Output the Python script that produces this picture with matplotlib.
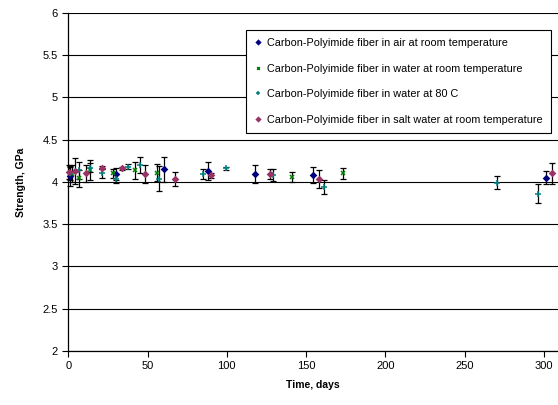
import matplotlib
matplotlib.use("Agg")
import matplotlib.pyplot as plt

# Carbon-Polyimide fiber in air at room temperature
air_days = [1.0, 30.3, 60.2, 88.1, 118.0, 154.2, 301.3]
air_vals = [4.07, 4.09, 4.15, 4.13, 4.095, 4.08, 4.05]
air_err = [0.12, 0.07, 0.15, 0.11, 0.105, 0.095, 0.08]

# Carbon-Polyimide fiber in water at room temperature
wrt_days = [2.1, 7.0, 13.9, 28.2, 41.9, 56.2, 141.0, 173.2]
wrt_vals = [4.095, 4.045, 4.14, 4.10, 4.14, 4.11, 4.06, 4.10]
wrt_err = [0.1, 0.1, 0.12, 0.05, 0.1, 0.1, 0.057, 0.067]

# Carbon-Polyimide fiber in water at 80 C
w80_days = [1.0, 7.0, 13.9, 21.0, 29.9, 37.6, 45.0, 57.2, 85.0, 99.3, 129.2, 161.4, 270.4, 296.5]
w80_vals = [4.10, 4.14, 4.17, 4.10, 4.04, 4.18, 4.20, 4.04, 4.095, 4.16, 4.08, 3.94, 3.99, 3.86]
w80_err = [0.08, 0.1, 0.05, 0.05, 0.05, 0.03, 0.1, 0.15, 0.055, 0.02, 0.07, 0.08, 0.075, 0.11]

# Carbon-Polyimide fiber in salt water at room temperature
salt_days = [0.2, 4.0, 11.0, 21.0, 34.1, 48.3, 67.1, 90.3, 127.3, 158.2, 305.3]
salt_vals = [4.12, 4.13, 4.105, 4.17, 4.16, 4.095, 4.035, 4.08, 4.095, 4.03, 4.10]
salt_err = [0.08, 0.15, 0.1, 0.02, 0.02, 0.105, 0.08, 0.03, 0.06, 0.107, 0.125]

labels = [
    "Carbon-Polyimide fiber in air at room temperature",
    "Carbon-Polyimide fiber in water at room temperature",
    "Carbon-Polyimide fiber in water at 80 C",
    "Carbon-Polyimide fiber in salt water at room temperature",
]
x_ticks = [0, 50, 100, 150, 200, 250, 300]
y_ticks = [2, 2.5, 3, 3.5, 4, 4.5, 5, 5.5, 6]
y_ticklabels = ["2", "2.5", "3", "3.5", "4", "4.5", "5", "5.5", "6"]

plt.rcParams['font.family'] = ['Liberation Sans', 'DejaVu Sans']

fig = plt.figure(figsize=(5.58, 4.05), dpi=100)
ax = fig.add_axes([0.1225, 0.1333, 0.8775, 0.835])

for yv in y_ticks:
    ax.axhline(yv, color='black', lw=0.8, zorder=0)

series = [
    (air_days, air_vals, air_err, 'D', '#000080', 2.8, labels[0]),
    (wrt_days, wrt_vals, wrt_err, 'x', '#008000', 2.6, labels[1]),
    (w80_days, w80_vals, w80_err, '+', '#008080', 4.5, labels[2]),
    (salt_days, salt_vals, salt_err, 'D', '#993366', 2.8, labels[3]),
]
for d, v, e, m, c, ms, lab in series:
    ax.errorbar(d, v, yerr=e, fmt='none', ecolor='black', elinewidth=0.9,
                capsize=2.5, capthick=0.9, clip_on=False, zorder=2)
    ax.plot(d, v, linestyle='none', marker=m, color=c, markersize=ms,
            markeredgewidth=1.1, label=lab, clip_on=False, zorder=3)

ax.set_xlim(0, 309)
ax.set_ylim(2, 6)
ax.set_xticks(x_ticks)
ax.set_yticks(y_ticks)
ax.set_yticklabels(y_ticklabels)
ax.tick_params(direction='out', length=4, width=0.8, labelsize=8)
for s in ['top', 'right']:
    ax.spines[s].set_visible(False)
for s in ['left', 'bottom']:
    ax.spines[s].set_linewidth(0.9)

ax.set_xlabel("Time, days", fontsize=7.5, fontweight='bold', labelpad=6)
ax.set_ylabel("Strength, GPa", fontsize=7.5, fontweight='bold', labelpad=12)

leg = ax.legend(loc='upper right', bbox_to_anchor=(0.986, 0.95), fontsize=7.8,
                frameon=True, fancybox=False, edgecolor='black', framealpha=1,
                labelspacing=1.45, handlelength=0.8, handletextpad=0.45,
                borderpad=0.75, borderaxespad=0, markerscale=0.75)
leg.get_frame().set_linewidth(0.8)

fig.savefig("out.png", dpi=100)
